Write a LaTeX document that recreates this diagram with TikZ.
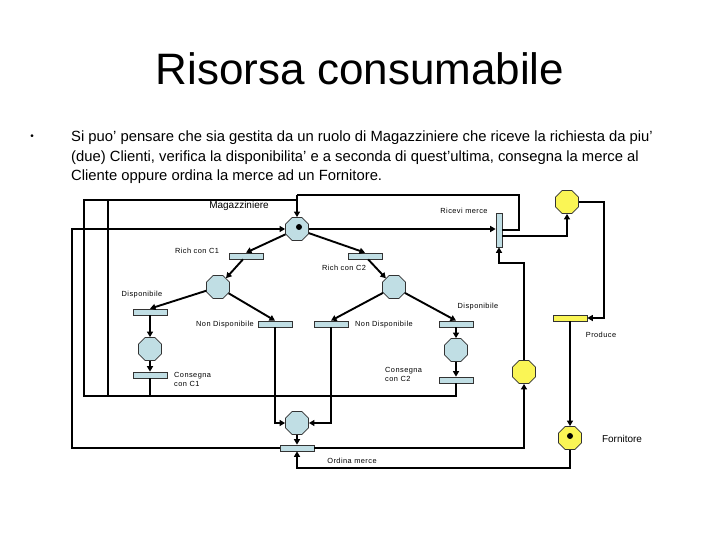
\documentclass[tikz,border=0pt]{standalone}
\usepackage{fontspec}
\setmainfont{Liberation Sans}
\usetikzlibrary{shapes.geometric,arrows.meta}
\definecolor{pblue}{RGB}{192,222,228}
\definecolor{pyel}{RGB}{250,245,85}
\tikzset{
  place/.style={regular polygon,regular polygon sides=8,minimum size=25pt,inner sep=0pt,draw=black!80,line width=0.7pt,fill=pblue},
  yplace/.style={place,fill=pyel},
  trans/.style={rectangle,minimum width=34pt,minimum height=6pt,inner sep=0pt,draw=black!80,line width=0.7pt,fill=pblue},
  vtrans/.style={trans,minimum width=6pt,minimum height=34pt},
  ytrans/.style={trans,fill=pyel},
  arc/.style={line width=1.9pt,draw=black},
  arr/.style={arc,-{Triangle[length=5.5pt,width=6pt]}},
  tok/.style={circle,fill=black,inner sep=0pt,minimum size=6pt},
  lab/.style={inner sep=0pt,font=\fontsize{7.4}{9}\selectfont\addfontfeature{LetterSpace=6}},
  biglab/.style={inner sep=0pt,font=\fontsize{10}{12}\selectfont},
  body/.style={inner sep=0pt,anchor=base west,font=\fontsize{14.8}{18}\selectfont}
}
\begin{document}
\begin{tikzpicture}[x=1pt,y=-1pt]
\useasboundingbox (0,0) rectangle (720,540);
% title and text
\node[inner sep=0pt,anchor=base,font=\fontsize{44}{50}\selectfont] (title) at (360,85) {Risorsa consumabile};
\node[inner sep=0pt,font=\fontsize{10}{10}\selectfont] (bul) at (32,137) {•};
\node[body] (l1) at (71,142) {Si puo’ pensare che sia gestita da un ruolo di Magazziniere che riceve la richiesta da piu’};
\node[body] (l2) at (71,161.5) {(due) Clienti, verifica la disponibilita’ e a seconda di quest’ultima, consegna la merce al};
\node[body] (l3) at (71,181) {Cliente oppure ordina la merce ad un Fornitore.};
% places and transitions
\node[place] (mag) at (297,229) {};
\node[tok] (magt) at (299,227) {};
\node[trans] (rc1) at (246,256) {};
\node[trans] (rc2) at (365,256) {};
\node[vtrans] (ric) at (499,230) {};
\node[yplace] (ytop) at (567,202) {};
\node[place] (p1) at (218,287) {};
\node[place] (p2) at (394,287) {};
\node[trans] (d1) at (150,312) {};
\node[trans] (nd1) at (275,324) {};
\node[trans] (nd2) at (331,324) {};
\node[trans] (d2) at (456,324) {};
\node[place] (q1) at (150,349) {};
\node[place] (q2) at (456,350) {};
\node[trans] (c1) at (150,375) {};
\node[trans] (c2) at (456,380) {};
\node[yplace] (ymid) at (524,372) {};
\node[ytrans] (prod) at (570,318) {};
\node[yplace] (forn) at (570,438) {};
\node[tok] (fornt) at (570,436) {};
\node[place] (om) at (297,423) {};
\node[trans] (ordt) at (297,448) {};
% corner coordinates
\coordinate (k1) at (456,396);
\coordinate (k2) at (84,396);
\coordinate (k3) at (84,200);
\coordinate (k4) at (297,200);
\coordinate (k5) at (150,396);
\coordinate (k6) at (108,396);
\coordinate (k7) at (108,200);
\coordinate (r1) at (519,230);
\coordinate (r2) at (519,195);
\coordinate (r3) at (297,195);
\coordinate (s1) at (567,236);
\coordinate (s2) at (604,202);
\coordinate (s3) at (604,318);
\coordinate (f1) at (570,468);
\coordinate (f2) at (297,468);
\coordinate (n1) at (275,423);
\coordinate (n2) at (331,423);
\coordinate (o1) at (524,448);
\coordinate (o2) at (72,448);
\coordinate (o3) at (72,229);
\coordinate (m1) at (524,263);
\coordinate (m2) at (499,263);
% connectors
\draw[arr] (mag) -- (rc1.north);
\draw[arr] (rc1) -- (p1);
\draw[arr] (mag) -- (rc2.north);
\draw[arr] (rc2) -- (p2);
\draw[arr] (p1) -- (d1.north);
\draw[arr] (p1) -- (nd1.north);
\draw[arr] (p2) -- (nd2.north);
\draw[arr] (p2) -- (d2.north);
\draw[arr] (d1) -- (q1);
\draw[arr] (q1) -- (c1);
\draw[arr] (d2) -- (q2);
\draw[arr] (q2) -- (c2);
\draw[arc] (c2.south) -- (k1) -- (k2) -- (k3) -- (k4);
\draw[arc] (c1.south) -- (k5) -- (k6) -- (k7);
\draw[arr] (mag.east) -- (ric.west |- mag.east);
\draw[arc] (ric.east |- r1) -- (r1) -- (r2) -- (r3);
\draw[arr] (r3) -- (mag.north);
\draw[arr] (ric.east |- s1) -- (s1) -- (ytop.south);
\draw[arr] (ytop.east) -- (s2) -- (s3) -- (prod.east);
\draw[arr] (prod.south) -- (forn.north);
\draw[arr] (forn.south) -- (f1) -- (f2) -- (ordt.south);
\draw[arr] (nd1.south) -- (n1) -- (om.west);
\draw[arr] (nd2.south) -- (n2) -- (om.east);
\draw[arr] (om) -- (ordt);
\draw[arr] (ordt.east) -- (o1) -- (ymid.south);
\draw[arr] (ordt.west) -- (o2) -- (o3) -- (mag.west);
\draw[arr] (ymid.north) -- (m1) -- (m2) -- (ric.south);
% labels
\node[biglab] (tmag) at (239,206) {Magazziniere};
\node[lab] (tric) at (464,211) {Ricevi merce};
\node[lab] (trc1) at (197,251) {Rich con C1};
\node[lab] (trc2) at (344,268) {Rich con C2};
\node[lab] (td1) at (142,295) {Disponibile};
\node[lab] (td2) at (478,307) {Disponibile};
\node[lab] (tnd1) at (225,324.5) {Non Disponibile};
\node[lab] (tnd2) at (384,324.5) {Non Disponibile};
\node[lab,align=left,anchor=west] (tc1) at (174,379.5) {Consegna\\con C1};
\node[lab,align=left,anchor=west] (tc2) at (385,374.5) {Consegna\\con C2};
\node[lab] (tprod) at (601,335) {Produce};
\node[biglab] (tforn) at (622,439) {Fornitore};
\node[lab] (tom) at (352,460.5) {Ordina merce};
\end{tikzpicture}
\end{document}
